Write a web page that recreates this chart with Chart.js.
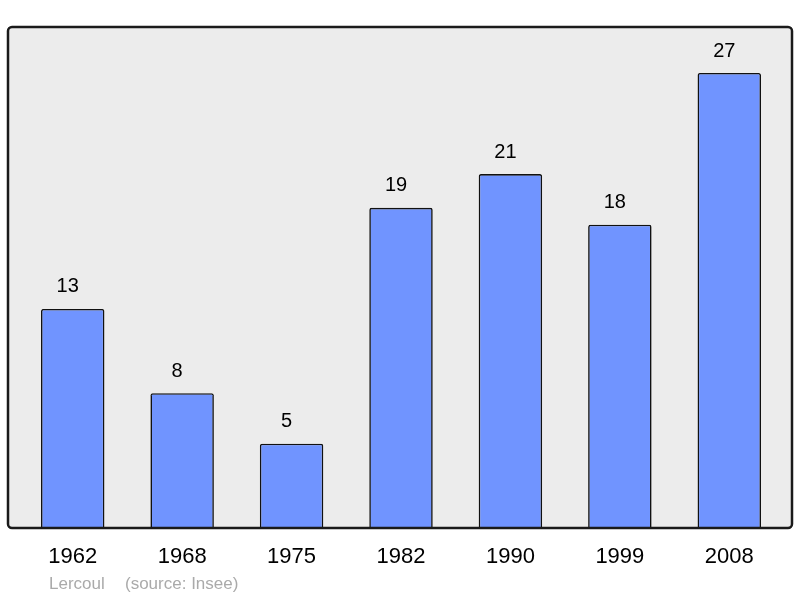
<!DOCTYPE html>
<html>
<head>
<meta charset="utf-8">
<script src="https://cdn.jsdelivr.net/npm/chart.js@4/dist/chart.umd.min.js"></script>
<style>
  html, body { margin: 0; padding: 0; background: #fff; }
  #wrap { width: 800px; height: 598px; }
</style>
</head>
<body>
<div id="wrap"><canvas id="pop-chart" width="800" height="598"></canvas></div>
<script>
var years = ['1962', '1968', '1975', '1982', '1990', '1999', '2008'];
var population = [13, 8, 5, 19, 21, 18, 27];
var commune = 'Lercoul';
var source = '(source: Insee)';

var FONT = '"Liberation Sans", Arial, sans-serif';

// grey panel behind bars, dark frame on top
var framePlugin = {
  id: 'frame',
  beforeDatasetsDraw: function(chart) {
    var ctx = chart.ctx, a = chart.chartArea;
    ctx.save();
    ctx.beginPath();
    ctx.roundRect(a.left - 10, a.top, a.right - a.left + 18, a.bottom - a.top, 4);
    ctx.fillStyle = '#ececec';
    ctx.fill();
    ctx.restore();
  },
  afterDatasetsDraw: function(chart) {
    var ctx = chart.ctx, a = chart.chartArea;
    var meta = chart.getDatasetMeta(0);
    ctx.save();
    ctx.font = '20px ' + FONT;
    ctx.fillStyle = '#000';
    ctx.textAlign = 'center';
    ctx.textBaseline = 'middle';
    meta.data.forEach(function(bar, i) {
      ctx.fillText(String(population[i]), bar.x - 5, bar.y - 22);
    });
    ctx.beginPath();
    ctx.roundRect(a.left - 10, a.top, a.right - a.left + 18, a.bottom - a.top, 4);
    ctx.lineWidth = 2.5;
    ctx.strokeStyle = '#1a1a1a';
    ctx.stroke();
    ctx.font = '17px ' + FONT;
    ctx.fillStyle = '#aaaaaa';
    ctx.textAlign = 'left';
    ctx.fillText(commune, 49, 584);
    ctx.fillText(source, 125, 584);
    ctx.restore();
  }
};

new Chart(document.getElementById('pop-chart').getContext('2d'), {
  type: 'bar',
  data: {
    labels: years,
    datasets: [{
      data: population,
      backgroundColor: '#7094ff',
      borderColor: '#111',
      borderWidth: 1.6,
      borderSkipped: 'bottom',
      borderRadius: 2,
      barPercentage: 0.58,
      categoryPercentage: 1
    }]
  },
  plugins: [framePlugin],
  options: {
    responsive: false,
    animation: false,
    layout: { padding: { left: 18, right: 16, top: 27, bottom: 0 } },
    plugins: {
      legend: { display: false },
      tooltip: { enabled: false }
    },
    scales: {
      x: {
        grid: { display: false },
        border: { display: false },
        ticks: { color: '#000', font: { size: 22, family: FONT }, padding: 8, maxRotation: 0 },
        afterFit: function(scale) { scale.height = 70; }
      },
      y: {
        display: false,
        min: 0,
        max: 29.73
      }
    }
  }
});
</script>
</body>
</html>
